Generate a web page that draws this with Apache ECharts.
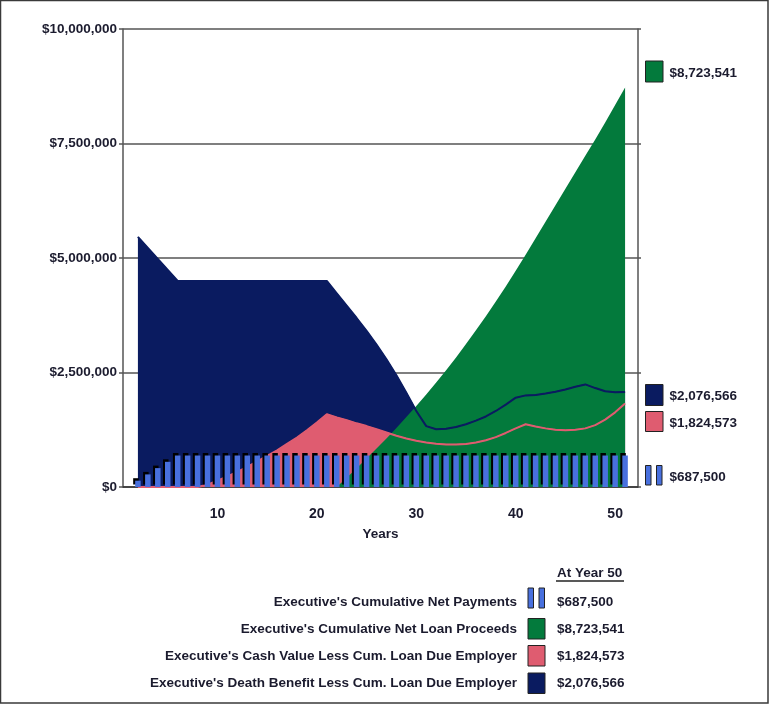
<!DOCTYPE html>
<html><head><meta charset="utf-8">
<script src="https://cdn.jsdelivr.net/npm/echarts@6/dist/echarts.min.js"></script>
<style>html,body{margin:0;padding:0;background:#fff}#c{width:769px;height:704px}</style>
</head><body><div id="c"></div>
<script>
// ---- data ----
const years = [2,3,4,5,6,7,8,9,10,11,12,13,14,15,16,17,18,19,20,21,22,23,24,25,26,27,28,29,30,31,32,33,34,35,36,37,38,39,40,41,42,43,44,45,46,47,48,49,50,51];
const xTickLabels = [10,20,30,40,50];
const yTicks = [0,2500000,5000000,7500000,10000000];
const netPayments = [137500,275000,412500,550000,687500,687500,687500,687500,687500,687500,687500,687500,687500,687500,687500,687500,687500,687500,687500,687500,687500,687500,687500,687500,687500,687500,687500,687500,687500,687500,687500,687500,687500,687500,687500,687500,687500,687500,687500,687500,687500,687500,687500,687500,687500,687500,687500,687500,687500,687500];
const loanProceeds = [0,0,0,0,0,0,0,0,0,0,0,0,0,0,0,0,0,0,0,0,0,200000,410000,620000,840000,1060000,1290000,1530000,1770000,2020000,2280000,2550000,2830000,3120000,3420000,3730000,4050000,4380000,4720000,5070000,5430000,5790000,6150000,6510000,6870000,7230000,7590000,7960000,8340000,8723541];
const cashValue = [0,0,0,0,0,0,0,50000,140000,230000,330000,440000,560000,680000,800000,940000,1080000,1240000,1410000,1590000,1520000,1460000,1390000,1330000,1260000,1190000,1120000,1060000,1010000,970000,945000,930000,930000,940000,970000,1020000,1090000,1180000,1280000,1370000,1320000,1280000,1250000,1240000,1250000,1280000,1350000,1470000,1630000,1824573];
const deathBenefit = [5460000,5220000,4980000,4740000,4500000,4500000,4500000,4500000,4500000,4500000,4500000,4500000,4500000,4500000,4500000,4500000,4500000,4500000,4500000,4500000,4230000,3960000,3690000,3410000,3110000,2790000,2440000,2060000,1660000,1330000,1260000,1270000,1310000,1370000,1450000,1540000,1660000,1800000,1950000,2000000,2010000,2040000,2080000,2130000,2190000,2240000,2160000,2090000,2070000,2076566];
const seriesNames = [
  "Executive's Cumulative Net Payments",
  "Executive's Cumulative Net Loan Proceeds",
  "Executive's Cash Value Less Cum. Loan Due Employer",
  "Executive's Death Benefit Less Cum. Loan Due Employer"
];
const headerText = 'At Year 50';
const axisName = 'Years';

// ---- styles ----
const C = {blue:'#4870de', green:'#037a3c', pink:'#df5c70', navy:'#0a1b60', text:'#1b1b2e', frame:'#555'};
const FONT = '"Liberation Sans", Arial, Helvetica, sans-serif';
const fmt = v => '$' + Math.round(v).toLocaleString('en-US');
const pairs = arr => years.map((y,i)=>[y, arr[i]]);
const last = arr => arr[arr.length-1];

const chart = echarts.init(document.getElementById('c'));

const g = [];
g.push({type:'rect', shape:{x:0.5,y:0.5,width:767.5,height:702.5}, style:{fill:'none', stroke:'#3a3a3a', lineWidth:1.5}, silent:true});
function box(x,y,w,h,fill){ g.push({type:'rect', shape:{x,y,width:w,height:h}, style:{fill, stroke:'#222', lineWidth:1}}); }
function barsIcon(x,y,h){ box(x,y,5.5,h,C.blue); box(x+11,y,5.5,h,C.blue); }
function txt(t,x,y,align,size){ g.push({type:'text', x, y, style:{text:t, font:'bold '+(size||13.5)+'px '+FONT, fill:C.text, align:align||'left', verticalAlign:'middle'}}); }

// end labels at right of plot
box(645.5,61,17.5,21,C.green); txt(fmt(last(loanProceeds)),669.5,73);
box(645.5,384.5,17.5,21,C.navy); txt(fmt(last(deathBenefit)),669.5,396);
box(645.5,411.5,17.5,20,C.pink); txt(fmt(last(cashValue)),669.5,423);
barsIcon(645.5,465.5,19.5); txt(fmt(last(netPayments)),669.5,477.5);

// bottom legend table
txt(headerText,557,573);
g.push({type:'line', shape:{x1:556,y1:581,x2:624,y2:581}, style:{stroke:'#222', lineWidth:1.3}});
const rowsY = [602.5,629,656,683.5];
const rowVals = [last(netPayments), last(loanProceeds), last(cashValue), last(deathBenefit)];
const rowCols = [null, C.green, C.pink, C.navy];
rowsY.forEach((y,i)=>{
  txt(seriesNames[i],517,y,'right',13.5);
  if(i===0) barsIcon(528,y-14.5,20); else box(528,y-10.5,17,20.5,rowCols[i]);
  txt(fmt(rowVals[i]),557,y);
});

const option = {
  animation:false,
  backgroundColor:'#fff',
  grid:{left:123, right:131, top:29, bottom:217, containLabel:false},
  xAxis:{
    type:'value', min:0.5, max:52.3,
    name:axisName, nameLocation:'middle', nameGap:40,
    nameTextStyle:{fontFamily:FONT, fontWeight:'bold', fontSize:13.5, color:C.text},
    axisLine:{show:true, onZero:false, lineStyle:{color:'#333', width:1.5}},
    axisTick:{show:false},
    splitLine:{show:false},
    axisLabel:{customValues:xTickLabels, margin:20, fontFamily:FONT, fontWeight:'bold', fontSize:14, color:C.text}
  },
  yAxis:[{
    type:'value', min:0, max:10000000, interval:2500000,
    axisLine:{show:true, lineStyle:{color:C.frame, width:1.5}},
    axisTick:{show:true, inside:false, length:4, lineStyle:{color:C.frame, width:1.5}},
    splitLine:{show:true, lineStyle:{color:C.frame, width:1.5}},
    axisLabel:{margin:6, formatter:v=>fmt(v), fontFamily:FONT, fontWeight:'bold', fontSize:13.5, color:C.text}
  },{
    type:'value', min:0, max:10000000, interval:2500000, position:'right',
    axisLine:{show:true, lineStyle:{color:C.frame, width:1.5}},
    axisTick:{show:true, inside:false, length:3, lineStyle:{color:C.frame, width:1.5}},
    splitLine:{show:false}, axisLabel:{show:false}
  }],
  series:[
    {name:seriesNames[3], type:'line', z:2, data:pairs(deathBenefit), showSymbol:false, symbol:'none',
      lineStyle:{width:1, color:C.navy}, areaStyle:{color:C.navy, opacity:1}, itemStyle:{color:C.navy}},
    {name:seriesNames[2], type:'line', z:2, data:pairs(cashValue), showSymbol:false, symbol:'none',
      lineStyle:{width:1, color:C.pink}, areaStyle:{color:C.pink, opacity:1}, itemStyle:{color:C.pink}},
    {name:seriesNames[1], type:'line', z:2, data:pairs(loanProceeds), showSymbol:false, symbol:'none',
      lineStyle:{width:0, color:C.green}, areaStyle:{color:C.green, opacity:1}, itemStyle:{color:C.green}},
    {name:seriesNames[3]+' line', type:'line', z:3, data:pairs(deathBenefit), showSymbol:false, symbol:'none',
      lineStyle:{width:2, color:C.navy}},
    {name:seriesNames[2]+' line', type:'line', z:3, data:pairs(cashValue), showSymbol:false, symbol:'none',
      lineStyle:{width:2, color:C.pink}},
    {name:seriesNames[0], type:'bar', z:6, data:pairs(netPayments), barWidth:5.5,
      itemStyle:{color:C.blue, shadowColor:'#000', shadowBlur:0, shadowOffsetX:-2, shadowOffsetY:-2.5}}
  ],
  graphic:g
};
chart.setOption(option);
</script></body></html>
